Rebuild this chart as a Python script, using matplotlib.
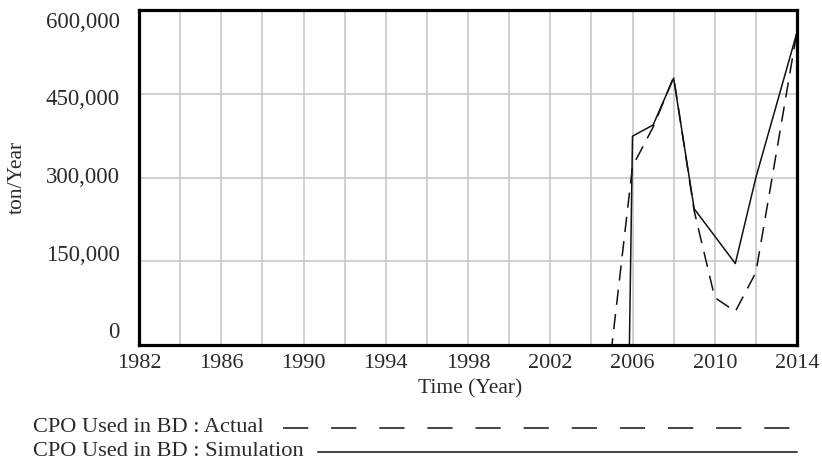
import matplotlib
matplotlib.use("Agg")
import matplotlib.pyplot as plt
from matplotlib.lines import Line2D
import numpy as np

# ---- data ----
actual_t = [1982, 2005, 2006, 2007, 2008, 2009, 2010, 2011, 2012, 2013, 2014]
actual_v = [0, 0, 320000, 390000, 480000, 240000, 85000, 60000, 130000, 345000, 562000]
sim_t = [1982, 2005.85, 2006, 2007, 2008, 2009, 2010, 2011, 2012, 2013, 2014]
sim_v = [0, 0, 374000, 394000, 478000, 244000, 195000, 146000, 300000, 430000, 560000]
x_ticks = [1982, 1986, 1990, 1994, 1998, 2002, 2006, 2010, 2014]
y_ticks = [0, 150000, 300000, 450000, 600000]
y_tick_labels = ["0", "150,000", "300,000", "450,000", "600,000"]
x_label = "Time (Year)"
y_label = "ton/Year"
legend_labels = ["CPO Used in BD : Actual", "CPO Used in BD : Simulation"]

FONT = "Liberation Serif"
TXT = "#2a2a2a"
FS = 16

fig = plt.figure(figsize=(8.22, 4.63), dpi=100)
ax = fig.add_axes([139/822, 1-345/463, (797-139)/822, (345-10)/463])

ax.set_xlim(1982, 2014)
ax.set_ylim(0, 600000)

# grid
ax.set_xticks(np.arange(1982, 2015, 2))
ax.set_yticks(y_ticks)
ax.grid(True, color="#c4c4c4", linewidth=1.1)
ax.tick_params(length=0, labelleft=False, labelbottom=False)

for t in x_ticks:
    ax.text(t, -0.055, str(t), transform=ax.get_xaxis_transform(),
            ha="center", va="center", fontsize=FS, family=FONT, color=TXT)

# y labels (slightly compressed toward center, as in the reference)
mid = 300000
for v, lab in zip(y_ticks, y_tick_labels):
    ypos = mid + (v - mid) * 0.926
    ax.text(-0.029, ypos, lab, transform=ax.get_yaxis_transform(),
            ha="right", va="center", fontsize=FS + 0.5, family=FONT, color=TXT)

ax.plot(actual_t, actual_v, color="#111111", linewidth=1.1, dashes=(10, 6))
ax.plot(sim_t, sim_v, color="#111111", linewidth=1.1)

for s in ax.spines.values():
    s.set_linewidth(2.3)
    s.set_color("black")

fig.text(470/822, 1-389/463, x_label, ha="center", va="center",
         fontsize=FS - 0.5, family=FONT, color=TXT)
fig.text(17/822, 1-177/463, y_label, ha="center", va="center", rotation=90,
         fontsize=FS - 0.5, family=FONT, color=TXT)

# legend
LFS = 16.1
fig.text(33/822, 1-427.5/463, legend_labels[0], ha="left", va="center",
         fontsize=LFS, family=FONT, color=TXT)
fig.text(33/822, 1-451.5/463, legend_labels[1], ha="left", va="center",
         fontsize=LFS, family=FONT, color=TXT)
fig.add_artist(Line2D([283/822, 797/822], [1-427.5/463, 1-427.5/463],
                      transform=fig.transFigure, color="#111111", linewidth=1.1,
                      dashes=(16.5, 15)))
fig.add_artist(Line2D([318/822, 797/822], [1-451.5/463, 1-451.5/463],
                      transform=fig.transFigure, color="#111111", linewidth=1.1))

fig.savefig("out.png", dpi=100)
